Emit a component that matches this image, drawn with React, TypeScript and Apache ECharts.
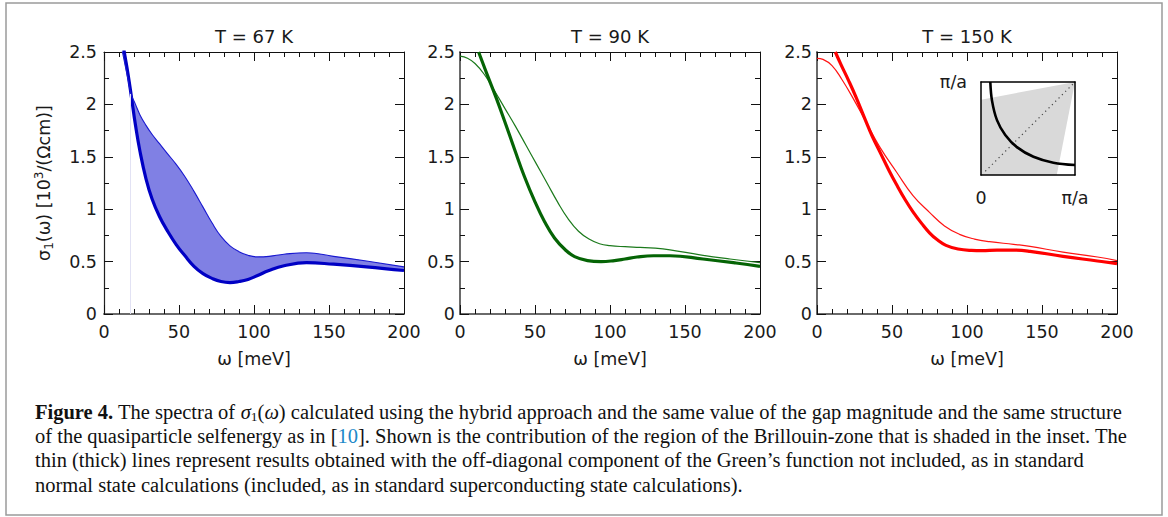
import React, { useEffect, useRef } from 'react';
import * as echarts from 'echarts';

// ---------- data ----------
const panelTitles = ['T = 67 K', 'T = 90 K', 'T = 150 K'];
const xAxisName = 'ω [meV]';

// Panel 1 (T = 67 K): common x grid, thin and thick curves
const p1X = [12, 14, 16, 18, 21, 24, 28, 32, 37, 42, 48, 54, 60, 66, 72, 78, 84, 90, 96, 102, 110, 120, 135, 153, 175, 200];
const p1Thick = [2.63, 2.46, 2.29, 2.1, 1.8, 1.55, 1.29, 1.1, 0.93, 0.8, 0.665, 0.555, 0.455, 0.385, 0.34, 0.31, 0.3, 0.31, 0.33, 0.365, 0.415, 0.46, 0.49, 0.475, 0.45, 0.415];
const p1Thin = [2.52, 2.38, 2.24, 2.1, 2.0, 1.9, 1.8, 1.715, 1.625, 1.535, 1.43, 1.31, 1.17, 1.02, 0.87, 0.74, 0.65, 0.595, 0.56, 0.545, 0.55, 0.57, 0.585, 0.55, 0.505, 0.45];
const p1ArtifactX = 17.6;

// Panel 2 (T = 90 K)
const p2ThinX = [0, 5, 10, 16, 23, 30, 37, 44, 51, 58, 65, 72, 79, 86, 93, 100, 110, 120, 130, 140, 160, 180, 200];
const p2ThinY = [2.46, 2.44, 2.39, 2.29, 2.13, 1.96, 1.79, 1.61, 1.43, 1.25, 1.07, 0.91, 0.79, 0.715, 0.67, 0.652, 0.642, 0.636, 0.628, 0.612, 0.565, 0.525, 0.49];
const p2ThickX = [12.4, 18.5, 24.2, 30, 36.4, 43, 50, 56.4, 63, 70, 76.4, 85, 94, 103, 110, 118, 129, 140, 162, 184, 200];
const p2ThickY = [2.5, 2.27, 2.06, 1.83, 1.57, 1.31, 1.07, 0.88, 0.725, 0.615, 0.548, 0.51, 0.5, 0.51, 0.525, 0.544, 0.556, 0.556, 0.525, 0.487, 0.455];

// Panel 3 (T = 150 K)
const p3ThinX = [0, 4, 10, 16.5, 24, 32, 42, 53, 64, 75, 85, 95, 105, 115, 131, 142, 164, 187, 200];
const p3ThinY = [2.44, 2.43, 2.37, 2.24, 2.06, 1.85, 1.59, 1.355, 1.13, 0.97, 0.84, 0.76, 0.715, 0.69, 0.665, 0.646, 0.59, 0.544, 0.51];
const p3ThickX = [12.2, 16, 21, 26, 32, 37, 42, 48, 53, 59, 64, 70, 75, 80, 86, 94, 103, 110, 120, 131, 142, 164, 187, 200];
const p3ThickY = [2.5, 2.38, 2.23, 2.07, 1.86, 1.69, 1.545, 1.37, 1.235, 1.085, 0.975, 0.86, 0.775, 0.71, 0.655, 0.62, 0.607, 0.605, 0.61, 0.61, 0.598, 0.55, 0.506, 0.48];

// Inset (Brillouin-zone quadrant, units of pi/a)
const insetShadeX = [0, 0, 1, 0.806];
const insetShadeY = [0, 0.81, 1, 0];
const insetFermiX = [0.099, 0.117, 0.17, 0.258, 0.382, 0.558, 0.77, 1.0];
const insetFermiY = [1.0, 0.8, 0.59, 0.43, 0.3, 0.196, 0.132, 0.107];
const insetDiagX = [0.046, 1];
const insetDiagY = [0.04, 1];

const captionLines = [
  '{b|Figure 4.} The spectra of {i|σ}{s|1}{n|(}{i|ω}{n|)} calculated using the hybrid approach and the same value of the gap magnitude and the same structure',
  'of the quasiparticle selfenergy as in [{l|10}]. Shown is the contribution of the region of the Brillouin-zone that is shaded in the inset. The',
  'thin (thick) lines represent results obtained with the off-diagonal component of the Green\u2019s function not included, as in standard',
  'normal state calculations (included, as in standard superconducting state calculations).',
];

// ---------- styles ----------
const FONT = "'DejaVu Sans', Verdana, sans-serif";
const SERIF = "'Liberation Serif', 'DejaVu Serif', serif";
const grids = [
  { left: 104, top: 52, width: 300, height: 262 },
  { left: 460, top: 52, width: 300, height: 262 },
  { left: 817, top: 52, width: 300, height: 262 },
  { left: 981, top: 82, width: 94, height: 93 },
];
const yLabelMargins = [7, 5, 5];
const leftAxisStyle = [
  { color: '#222', width: 1.2 },
  { color: '#6a6a6a', width: 2 },
  { color: '#6a6a6a', width: 2 },
];
const colors = [
  { thick: '#0000c4', thin: '#1818d0', fill: '#8080e4' },
  { thick: '#056405', thin: '#1c7a1c' },
  { thick: '#ff0000', thin: '#ff1414' },
];
const SMOOTH = 0.45;

const pairs = (xs: number[], ys: number[]) => xs.map((x, i) => [x, ys[i]]);

function buildAxes() {
  const xAxis: any[] = [];
  const yAxis: any[] = [];
  const tick = { show: true, inside: true, length: 9, lineStyle: { color: '#111', width: 1 } };
  const minor = (n: number) => ({ show: true, splitNumber: n, length: 5, lineStyle: { color: '#111', width: 1 } });
  const label = { fontFamily: FONT, fontSize: 17.5, color: '#1a1a1a' };
  for (let g = 0; g < 3; g++) {
    xAxis.push({
      type: 'value', gridIndex: g, position: 'bottom', min: 0, max: 200, interval: 50, z: 2,
      axisLine: { show: true, onZero: false, lineStyle: { color: '#6a6a6a', width: 2 } },
      axisTick: tick, minorTick: minor(5), splitLine: { show: false },
      axisLabel: { ...label, margin: 9 },
      name: xAxisName, nameLocation: 'middle', nameGap: 36,
      nameTextStyle: { fontFamily: FONT, fontSize: 17.5, color: '#1a1a1a' },
    });
    xAxis.push({
      type: 'value', gridIndex: g, position: 'top', min: 0, max: 200, interval: 50, z: 2,
      axisLine: { show: true, onZero: false, lineStyle: { color: '#111', width: 1 } },
      axisTick: tick, minorTick: minor(5), splitLine: { show: false },
      axisLabel: { show: false },
    });
    yAxis.push({
      type: 'value', gridIndex: g, position: 'left', min: 0, max: 2.5, interval: 0.5, z: 2,
      axisLine: { show: true, onZero: false, lineStyle: leftAxisStyle[g] },
      axisTick: tick, minorTick: minor(2), splitLine: { show: false },
      axisLabel: { ...label, margin: yLabelMargins[g] },
      ...(g === 0
        ? {
            name: '{n|σ}{s|1}{n|(ω) [10}{p|3}{n|/(Ωcm)]}',
            nameLocation: 'middle', nameGap: 49, nameRotate: 90,
            nameTextStyle: {
              fontFamily: FONT, fontSize: 17.5, color: '#1a1a1a',
              rich: {
                n: { fontFamily: FONT, fontSize: 17.5, color: '#1a1a1a', lineHeight: 22 },
                s: { fontFamily: FONT, fontSize: 12, color: '#1a1a1a', lineHeight: 22, verticalAlign: 'bottom' },
                p: { fontFamily: FONT, fontSize: 12, color: '#1a1a1a', lineHeight: 22, verticalAlign: 'top' },
              },
            },
          }
        : {}),
    });
    yAxis.push({
      type: 'value', gridIndex: g, position: 'right', min: 0, max: 2.5, interval: 0.5, z: 2,
      axisLine: { show: true, onZero: false, lineStyle: { color: '#111', width: 1 } },
      axisTick: tick, minorTick: minor(2), splitLine: { show: false },
      axisLabel: { show: false },
    });
  }
  // inset axes
  const insetLabel = { fontFamily: FONT, fontSize: 17.5, color: '#1a1a1a' };
  const boxLine = { show: true, onZero: false, lineStyle: { color: '#000', width: 1.5 } };
  xAxis.push({
    type: 'value', gridIndex: 3, position: 'bottom', min: 0, max: 1, interval: 1, z: 10,
    axisLine: boxLine, axisTick: { show: false }, splitLine: { show: false },
    axisLabel: { ...insetLabel, margin: 14, formatter: (v: number) => (v === 0 ? '0' : 'π/a') },
  });
  xAxis.push({
    type: 'value', gridIndex: 3, position: 'top', min: 0, max: 1, interval: 1, z: 10,
    axisLine: boxLine, axisTick: { show: false }, splitLine: { show: false }, axisLabel: { show: false },
  });
  yAxis.push({
    type: 'value', gridIndex: 3, position: 'left', min: 0, max: 1, interval: 1, z: 10,
    axisLine: boxLine, axisTick: { show: false }, splitLine: { show: false },
    axisLabel: { ...insetLabel, margin: 14, formatter: (v: number) => (v === 1 ? 'π/a' : '') },
  });
  yAxis.push({
    type: 'value', gridIndex: 3, position: 'right', min: 0, max: 1, interval: 1, z: 10,
    axisLine: boxLine, axisTick: { show: false }, splitLine: { show: false }, axisLabel: { show: false },
  });
  return { xAxis, yAxis };
}

function line(xi: number, data: number[][], color: string, width: number, z = 3, extra: any = {}) {
  return {
    type: 'line', xAxisIndex: xi, yAxisIndex: xi, data, smooth: SMOOTH, symbol: 'none', clip: true,
    lineStyle: { color, width }, z, silent: true, ...extra,
  };
}

function buildSeries() {
  const s: any[] = [];
  // panel 1 band: fill under thin curve, then white under thick curve -> band between them
  s.push({
    type: 'line', xAxisIndex: 0, yAxisIndex: 0, data: pairs(p1X, p1Thin), smooth: SMOOTH, symbol: 'none',
    lineStyle: { width: 0, opacity: 0 }, areaStyle: { color: colors[0].fill, opacity: 1 }, z: 1, silent: true,
  });
  s.push({
    type: 'line', xAxisIndex: 0, yAxisIndex: 0, data: pairs(p1X, p1Thick), smooth: SMOOTH, symbol: 'none',
    lineStyle: { width: 0, opacity: 0 }, areaStyle: { color: '#ffffff', opacity: 1 }, z: 1, silent: true,
  });
  s.push(line(0, pairs(p1X, p1Thick), colors[0].thick, 3.2, 3, {
    markLine: {
      silent: true, symbol: ['none', 'none'], label: { show: false },
      lineStyle: { color: '#e2e2f4', width: 1, type: 'solid' },
      data: [[{ coord: [p1ArtifactX, 0] }, { coord: [p1ArtifactX, 2.1] }]],
    },
  }));
  s.push(line(0, pairs(p1X, p1Thin), colors[0].thin, 1.1));
  // panel 2
  s.push(line(2, pairs(p2ThinX, p2ThinY), colors[1].thin, 1.2));
  s.push(line(2, pairs(p2ThickX, p2ThickY), colors[1].thick, 3.2));
  // panel 3
  s.push(line(4, pairs(p3ThinX, p3ThinY), colors[2].thin, 1.2));
  s.push(line(4, pairs(p3ThickX, p3ThickY), colors[2].thick, 3.2));
  // inset
  s.push({
    type: 'custom', xAxisIndex: 6, yAxisIndex: 6, data: [[0, 0]], silent: true, z: 1,
    renderItem: (_p: any, api: any) => ({
      type: 'polygon',
      shape: { points: insetShadeX.map((x, i) => api.coord([x, insetShadeY[i]])) },
      style: { fill: '#d9d9d9', stroke: 'none' },
    }),
  });
  s.push({
    type: 'line', xAxisIndex: 6, yAxisIndex: 6, data: pairs(insetDiagX, insetDiagY), symbol: 'none', silent: true, z: 2,
    lineStyle: { color: '#444', width: 1.2, type: [1.2, 3.5] },
  });
  s.push({
    type: 'line', xAxisIndex: 6, yAxisIndex: 6, data: pairs(insetFermiX, insetFermiY), symbol: 'none', silent: true, z: 3,
    smooth: 0.35, lineStyle: { color: '#000', width: 2.6 },
  });
  return s;
}

function buildGraphic() {
  const g: any[] = [];
  g.push({
    type: 'rect', shape: { x: 6, y: 3, width: 1156, height: 512 }, silent: true, z: -10,
    style: { fill: 'none', stroke: '#9b9b9b', lineWidth: 1.5 },
  });
  panelTitles.forEach((t, i) => {
    g.push({
      type: 'text', x: grids[i].left + grids[i].width / 2, y: 36, silent: true,
      style: {
        text: t, fontFamily: FONT, fontSize: 18, fill: '#1a1a1a',
        align: 'center', verticalAlign: 'middle', textAlign: 'center', textVerticalAlign: 'middle',
      },
    });
  });
  const capY = [412, 436, 460, 485];
  const base = { fontFamily: SERIF, fontSize: 20.5, fill: '#111', color: '#111', lineHeight: 22 };
  captionLines.forEach((t, i) => {
    g.push({
      type: 'text', x: 35, y: capY[i], silent: true,
      style: {
        text: t, ...base,
        align: 'left', verticalAlign: 'middle', textAlign: 'left', textVerticalAlign: 'middle',
        rich: {
          n: { ...base },
          b: { ...base, fontWeight: 'bold' },
          i: { ...base, fontStyle: 'italic' },
          s: { ...base, fontSize: 13.5, lineHeight: 16, verticalAlign: 'bottom' },
          l: { ...base, fill: '#2088c8', color: '#2088c8' },
        },
      },
    });
  });
  return g;
}

export default function App() {
  const ref = useRef<HTMLDivElement | null>(null);
  useEffect(() => {
    if (!ref.current) return;
    const chart = echarts.init(ref.current, undefined, { renderer: 'svg' });
    const { xAxis, yAxis } = buildAxes();
    chart.setOption({
      animation: false,
      backgroundColor: '#ffffff',
      grid: grids.map((g) => ({ ...g, containLabel: false, show: false })),
      xAxis,
      yAxis,
      series: buildSeries(),
      graphic: buildGraphic(),
    });
    return () => chart.dispose();
  }, []);
  return (
    <div
      ref={ref}
      style={{ position: 'fixed', left: 0, top: 0, width: 1168, height: 517, background: '#fff' }}
    />
  );
}
